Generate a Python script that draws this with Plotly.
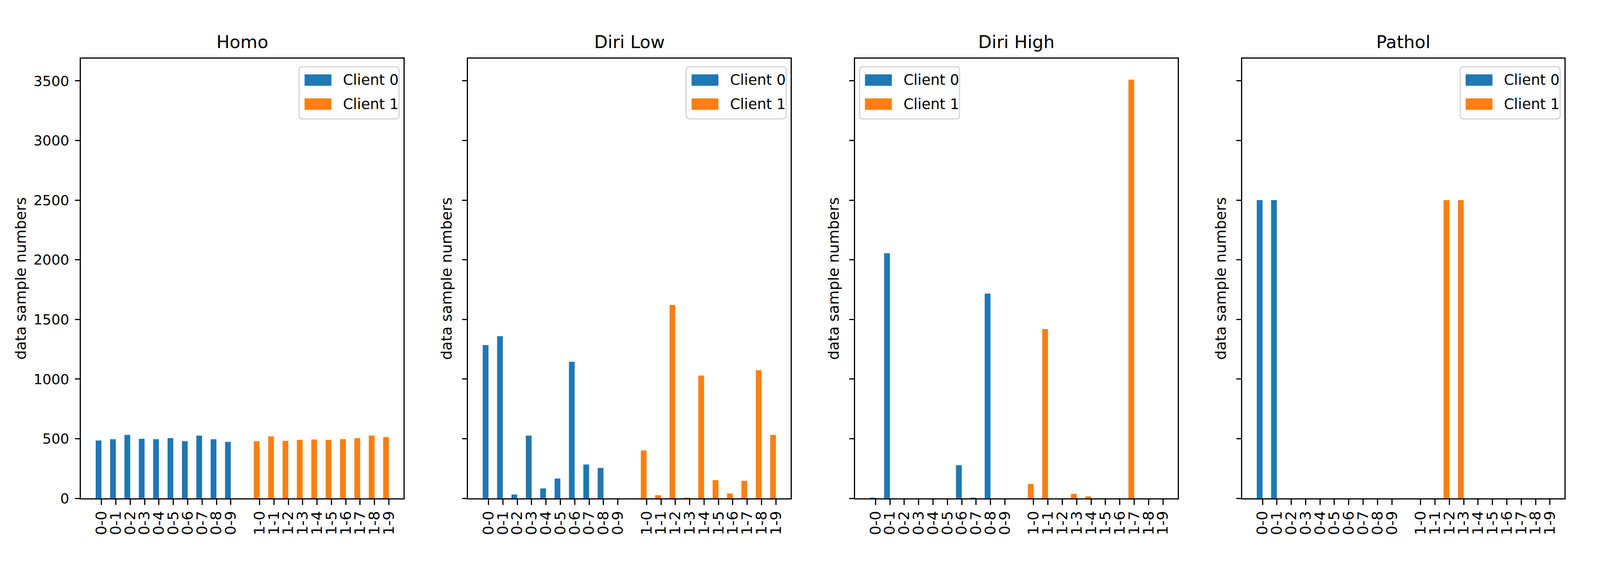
import plotly.graph_objects as go

# categories: class index per client, client 1 shifted by a gap of one slot
labels_c0 = ["0-0", "0-1", "0-2", "0-3", "0-4", "0-5", "0-6", "0-7", "0-8", "0-9"]
labels_c1 = ["1-0", "1-1", "1-2", "1-3", "1-4", "1-5", "1-6", "1-7", "1-8", "1-9"]
pos_c0 = [0, 1, 2, 3, 4, 5, 6, 7, 8, 9]
pos_c1 = [11, 12, 13, 14, 15, 16, 17, 18, 19, 20]

panel_titles = ["Homo", "Diri Low", "Diri High", "Pathol"]
series_names = ["Client 0", "Client 1"]

# sample counts per class
homo_c0 = [485, 496, 532, 499, 496, 505, 479, 526, 496, 473]
homo_c1 = [479, 520, 482, 490, 493, 490, 496, 505, 526, 514]

dirilow_c0 = [1285, 1359, 32, 526, 83, 166, 1145, 284, 255, 0]
dirilow_c1 = [402, 26, 1621, 3, 1029, 153, 41, 147, 1074, 532]

dirihigh_c0 = [6, 2055, 0, 0, 0, 0, 278, 6, 1716, 0]
dirihigh_c1 = [121, 1419, 0, 38, 16, 0, 0, 3510, 0, 0]

pathol_c0 = [2500, 2500, 0, 0, 0, 0, 0, 0, 0, 0]
pathol_c1 = [0, 0, 2500, 2500, 0, 0, 0, 0, 0, 0]

y_ticks = [0, 500, 1000, 1500, 2000, 2500, 3000, 3500]

panels = [
    (homo_c0, homo_c1),
    (dirilow_c0, dirilow_c1),
    (dirihigh_c0, dirihigh_c1),
    (pathol_c0, pathol_c1),
]

# page is 4096 css px wide, body has 8px margin
FIG_W, FIG_H = 4080, 1445
# geometry below is measured on the 4991x1461 reference and kept as fractions
REF_W, REF_H = 4991, 1461
BLUE = "#1f77b4"
ORANGE = "#ff7f0e"
FONT = "DejaVu Sans"

ax_px = [(244, 1254), (1456, 2466), (2668, 3678), (3880, 4890)]
top_px, bot_px = 146, 1300
legend_side = ["right", "right", "left", "right"]


def px(x):
    return x / REF_W


def py(y):
    return 1 - y / REF_H


def rounded_box(x0, y0, x1, y1, r=10):
    # x0,y0 top-left, x1,y1 bottom-right in reference pixels
    rx, ry = r, r
    pts = [
        f"M {px(x0 + rx)},{py(y0)}",
        f"L {px(x1 - rx)},{py(y0)}",
        f"Q {px(x1)},{py(y0)} {px(x1)},{py(y0 + ry)}",
        f"L {px(x1)},{py(y1 - ry)}",
        f"Q {px(x1)},{py(y1)} {px(x1 - rx)},{py(y1)}",
        f"L {px(x0 + rx)},{py(y1)}",
        f"Q {px(x0)},{py(y1)} {px(x0)},{py(y1 - ry)}",
        f"L {px(x0)},{py(y0 + ry)}",
        f"Q {px(x0)},{py(y0)} {px(x0 + rx)},{py(y0)}",
        "Z",
    ]
    return " ".join(pts)


fig = go.Figure()
annotations = []
shapes = []
layout = {}

for k, (c0, c1) in enumerate(panels):
    n = "" if k == 0 else str(k + 1)
    for pos, vals, color, name in [(pos_c0, c0, BLUE, series_names[0]),
                                   (pos_c1, c1, ORANGE, series_names[1])]:
        fig.add_trace(go.Bar(
            x=pos, y=vals, width=0.4, offset=-0.4,
            marker=dict(color=color, line=dict(width=0)),
            name=name, xaxis="x" + n, yaxis="y" + n, showlegend=False,
        ))

    l, r = ax_px[k]
    layout["xaxis" + n] = dict(
        domain=[px(l), px(r)], anchor="y" + n,
        range=[-1.42, 21.02],
        tickmode="array", tickvals=pos_c0 + pos_c1, ticktext=labels_c0 + labels_c1,
        tickangle=-90, ticks="outside", ticklen=14, tickwidth=3, tickcolor="black",
        showline=True, linecolor="black", linewidth=3, mirror=True,
        showgrid=False, zeroline=False,
        tickfont=dict(family=FONT, size=38, color="black"),
    )
    layout["yaxis" + n] = dict(
        domain=[py(bot_px), py(top_px)], anchor="x" + n,
        range=[0, 3685.5],
        tickmode="array", tickvals=y_ticks, showticklabels=(k == 0),
        ticks="outside", ticklen=12, tickwidth=3, tickcolor="black",
        showline=True, linecolor="black", linewidth=3, mirror=True,
        showgrid=False, zeroline=False,
        tickfont=dict(family=FONT, size=36, color="black"),
        ticklabelstandoff=8,
    )
    if k > 0:
        layout["yaxis" + n]["matches"] = "y"

    # legend box, matplotlib style
    if legend_side[k] == "right":
        bx1 = r - 14
        bx0 = bx1 - 313
    else:
        bx0 = l + 14
        bx1 = bx0 + 313
    by0, by1 = 167, 304
    shapes.append(dict(
        type="path", path=rounded_box(bx0, by0, bx1, by1),
        xref="paper", yref="paper",
        fillcolor="white", line=dict(color="#d4d4d4", width=3), layer="above",
    ))
    for j, (color, name) in enumerate([(BLUE, series_names[0]), (ORANGE, series_names[1])]):
        cy = by0 + 35 + j * 63
        shapes.append(dict(
            type="rect", xref="paper", yref="paper",
            x0=px(bx0 + 17), x1=px(bx0 + 101), y0=py(cy - 15), y1=py(cy + 15),
            fillcolor=color, line=dict(width=0), layer="above",
        ))
        annotations.append(dict(
            text=name, x=px(bx0 + 135), y=py(cy),
            xref="paper", yref="paper", xanchor="left", yanchor="middle",
            showarrow=False, font=dict(family=FONT, size=37, color="black"),
        ))

    # panel title
    annotations.append(dict(
        text=panel_titles[k], x=px((l + r) / 2), y=py(131),
        xref="paper", yref="paper", xanchor="center", yanchor="bottom",
        showarrow=False, font=dict(family=FONT, size=45, color="black"),
    ))
    # y axis label
    lab_right = 84 if k == 0 else l - 38
    annotations.append(dict(
        text="data sample numbers", textangle=-90,
        x=px(lab_right), y=py((top_px + bot_px) / 2),
        xref="paper", yref="paper", xanchor="right", yanchor="middle",
        showarrow=False, font=dict(family=FONT, size=38, color="black"),
    ))

fig.update_layout(
    **layout,
    annotations=annotations,
    shapes=shapes,
    width=FIG_W, height=FIG_H,
    margin=dict(l=0, r=0, t=0, b=0),
    plot_bgcolor="white", paper_bgcolor="white",
    barmode="overlay",
    showlegend=False,
)

fig.write_html("out.html")
